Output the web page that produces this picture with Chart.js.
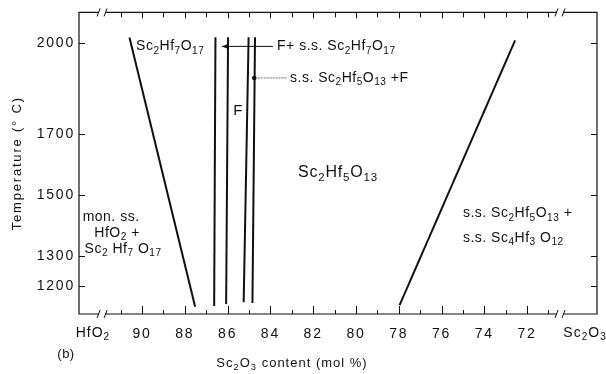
<!DOCTYPE html>
<html><head><meta charset="utf-8">
<script src="https://cdn.jsdelivr.net/npm/chart.js@4/dist/chart.umd.min.js"></script>
<style>html,body{margin:0;padding:0;background:#fff}#wrap{width:606px;height:374px}</style>
</head><body><div id="wrap"><canvas id="c" width="606" height="374"></canvas></div>
<script>
// ---- data (Sc2O3 content in mol %, temperature in °C) ----
const compositionTicks = [90, 88, 86, 84, 82, 80, 78, 76, 74, 72];
const compositionMinorTicks = [91, 89, 87, 85, 83, 81, 79, 77, 75, 73, 71];
const temperatureTicks = [1200, 1300, 1500, 1700, 2000];
const axisEndLabels = ['HfO_2', 'Sc_2O_3'];
const axisEndValues = [92.30, 69.29];
const breakValues = [91.87, 70.46];

// phase boundary lines: [composition, temperature]
const boundaryMonoclinic = [[90.59, 2019], [87.52, 1132]];
const boundarySc2Hf7O17 = [[86.57, 2020], [86.63, 1134]];
const boundaryFLeft = [[85.98, 2020], [86.07, 1141]];
const boundaryFRight = [[85.02, 2020], [85.25, 1147]];
const boundarySc2Hf5O13 = [[84.72, 2020], [84.84, 1144]];
const boundarySc4Hf3O12 = [[72.56, 2010], [77.96, 1137]];

// leader arrows: [from, to]
const arrowTwoPhaseF = [[83.88, 1990], [86.27, 1990]];
const arrowSsF = [[83.24, 1886], [84.76, 1886]];

// phase field labels
const phaseTexts = ['Sc_2Hf_7O_17', 'F+ s.s. Sc_2Hf_7O_17', 's.s. Sc_2Hf_5O_13 +F', 'F', 'Sc_2Hf_5O_13',
  'mon. ss.', 'HfO_2 +', 'Sc_2 Hf_7 O_17', 's.s. Sc_2Hf_5O_13 +', 's.s. Sc_4Hf_3 O_12'];
const phaseTextX = [90.28, 83.69, 83.08, 85.51, 80.84, 91.45, 91.17, 90.89, 75.0, 75.0];
const phaseTextY = [1990, 1990, 1886, 1779, 1575, 1427, 1375, 1322, 1440, 1358];

// ---- presentation ----
const FONT = '"Liberation Sans", Arial, sans-serif';
const INK = '#111';
const labelStyle = [
  {align:'left', size:14}, {align:'left', size:14}, {align:'left', size:14}, {align:'center', size:15},
  {align:'center', size:16}, {align:'center', size:14}, {align:'center', size:14}, {align:'center', size:14},
  {align:'left', size:14}, {align:'left', size:14}
];

function pts(arr) { return arr.map(([x, y]) => ({x, y})); }

function drawRich(ctx, text, x, y, size, align, spacing) {
  const parts = []; const re = /_(\d+)|[^_]+/g; let m;
  while ((m = re.exec(text))) parts.push(m[1] !== undefined ? {t: m[1], sub: true} : {t: m[0], sub: false});
  const fontFor = p => (p.sub ? (size * 0.72).toFixed(1) : size) + 'px ' + FONT;
  ctx.letterSpacing = '0px';
  let total = 0;
  parts.forEach(p => { ctx.font = fontFor(p); p.w = ctx.measureText(p.t).width + spacing * p.t.length; total += p.w; });
  let cx = align === 'center' ? x - total / 2 : (align === 'right' ? x - total : x);
  ctx.textAlign = 'left'; ctx.textBaseline = 'middle';
  ctx.letterSpacing = spacing + 'px';
  parts.forEach(p => { ctx.font = fontFor(p); ctx.fillText(p.t, cx, p.sub ? y + size * 0.32 : y); cx += p.w; });
  ctx.letterSpacing = '0px';
}

const phasePlugin = {
  id: 'phase',
  beforeDraw(chart) {
    const ctx = chart.ctx;
    ctx.save(); ctx.fillStyle = '#fff'; ctx.fillRect(0, 0, chart.width, chart.height); ctx.restore();
    ctx.letterSpacing = '1.8px';
  },
  afterDraw(chart) {
    const ctx = chart.ctx; const xs = chart.scales.x; const ys = chart.scales.y;
    const {left, right, top, bottom} = chart.chartArea;
    ctx.save();
    ctx.letterSpacing = '0px';
    ctx.strokeStyle = INK; ctx.fillStyle = INK;
    // frame
    ctx.lineWidth = 1.2;
    ctx.beginPath();
    ctx.moveTo(left, top); ctx.lineTo(right, top); ctx.lineTo(right, bottom); ctx.lineTo(left, bottom); ctx.closePath();
    ctx.stroke();
    // ticks on x (inward)
    ctx.lineWidth = 1;
    ctx.beginPath();
    compositionTicks.forEach(v => { const p = Math.round(xs.getPixelForValue(v)) + 0.5;
      ctx.moveTo(p, bottom); ctx.lineTo(p, bottom - 8); ctx.moveTo(p, top); ctx.lineTo(p, top + 6); });
    compositionMinorTicks.forEach(v => { const p = Math.round(xs.getPixelForValue(v)) + 0.5;
      ctx.moveTo(p, bottom); ctx.lineTo(p, bottom - 4); ctx.moveTo(p, top); ctx.lineTo(p, top + 5); });
    temperatureTicks.forEach(v => { const p = Math.round(ys.getPixelForValue(v)) + 0.5;
      ctx.moveTo(left, p); ctx.lineTo(left + 6, p); ctx.moveTo(right, p); ctx.lineTo(right - 6, p); });
    ctx.stroke();
    // axis breaks
    breakValues.forEach(v => {
      const c = xs.getPixelForValue(v);
      [top, bottom].forEach(yy => {
        ctx.fillStyle = '#fff'; ctx.fillRect(c - 3, yy - 2, 6, 4);
        ctx.fillStyle = INK;
        ctx.beginPath();
        ctx.moveTo(c - 5, yy + 4); ctx.lineTo(c - 2, yy - 4);
        ctx.moveTo(c + 2, yy + 4); ctx.lineTo(c + 5, yy - 4);
        ctx.stroke();
      });
    });
    // arrow heads
    const a1 = arrowTwoPhaseF[1];
    const tx = xs.getPixelForValue(a1[0]), ty = ys.getPixelForValue(a1[1]);
    ctx.beginPath(); ctx.moveTo(tx, ty); ctx.lineTo(tx + 7, ty - 2.8); ctx.lineTo(tx + 7, ty + 2.8); ctx.closePath(); ctx.fill();
    const a2 = arrowSsF[1];
    ctx.beginPath(); ctx.arc(xs.getPixelForValue(a2[0]), ys.getPixelForValue(a2[1]), 2.2, 0, Math.PI * 2); ctx.fill();
    // phase labels
    phaseTexts.forEach((t, i) => {
      const st = labelStyle[i];
      drawRich(ctx, t, xs.getPixelForValue(phaseTextX[i]), ys.getPixelForValue(phaseTextY[i]), st.size, st.align, st.size >= 16 ? 0.8 : 0.5);
    });
    // axis end labels
    axisEndLabels.forEach((t, i) => drawRich(ctx, t, xs.getPixelForValue(axisEndValues[i]), bottom + 19, 14, 'center', 1));
    // x title and panel tag
    drawRich(ctx, 'Sc_2O_3 content (mol %)', left + 213, bottom + 49, 13, 'center', 1);
    drawRich(ctx, '(b)', left - 13, bottom + 40, 13, 'center', 0.5);
    ctx.restore();
    ctx.letterSpacing = '0px';
  }
};

const lineDs = (arr, w) => ({data: pts(arr), showLine: true, borderColor: INK, borderWidth: w, pointRadius: 0, tension: 0, fill: false});

new Chart(document.getElementById('c'), {
  type: 'scatter',
  data: {datasets: [
    lineDs(boundaryMonoclinic, 2), lineDs(boundarySc2Hf7O17, 2), lineDs(boundaryFLeft, 2),
    lineDs(boundaryFRight, 2), lineDs(boundarySc2Hf5O13, 2), lineDs(boundarySc4Hf3O12, 2),
    lineDs(arrowTwoPhaseF, 1),
    Object.assign(lineDs(arrowSsF, 0.8), {borderColor: '#444', borderDash: [2, 1]})
  ]},
  options: {
    responsive: false, animation: false, devicePixelRatio: 1,
    layout: {padding: {left: 0, right: 9, top: 12, bottom: 0}},
    plugins: {legend: {display: false}, tooltip: {enabled: false}},
    scales: {
      x: {type: 'linear', reverse: true, min: 68.73, max: 92.95, position: 'bottom',
        afterFit: s => { s.height = 60; },
        afterBuildTicks: s => { s.ticks = compositionTicks.map(v => ({value: v})); },
        grid: {display: false, drawTicks: false}, border: {display: false},
        ticks: {font: {family: FONT, size: 14}, color: INK, padding: 12, maxRotation: 0, autoSkip: false, callback: v => String(v)}},
      y: {type: 'linear', min: 1108, max: 2102, position: 'left',
        afterFit: s => { s.width = 79; },
        afterBuildTicks: s => { s.ticks = temperatureTicks.map(v => ({value: v})); },
        grid: {display: false, drawTicks: false}, border: {display: false},
        ticks: {font: {family: FONT, size: 14}, color: INK, padding: 4, autoSkip: false, callback: v => String(v)},
        title: {display: true, text: 'Temperature (° C)', font: {family: FONT, size: 13}, color: INK, padding: {top: 10, bottom: 0}}}
    }
  },
  plugins: [phasePlugin]
});
</script></body></html>
